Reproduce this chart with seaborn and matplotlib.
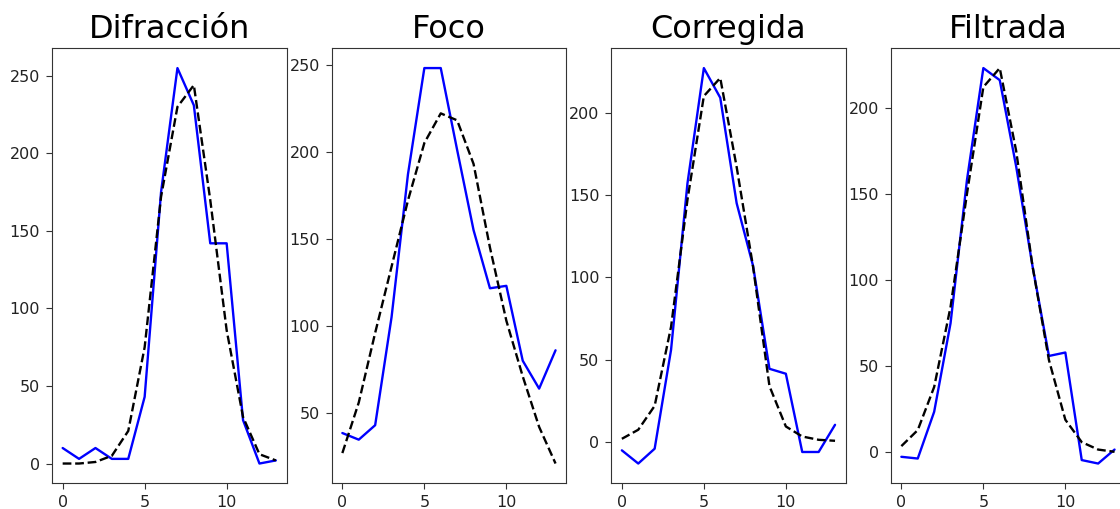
import numpy as np
import pandas as pd
import matplotlib
matplotlib.use("Agg")
import matplotlib.pyplot as plt
import seaborn as sns

titles = ["Difracción", "Foco", "Corregida", "Filtrada"]
x_vals = list(range(14))

difraccion_med = [10, 3, 10, 3, 3, 43, 175, 255, 231, 142, 142, 28, 0, 2]
difraccion_fit = [0, 0, 1, 5, 21, 75, 172, 230, 244, 170, 86, 30, 6, 2]

foco_med = [38.5, 34.7, 43, 105, 187, 248, 248, 201, 155, 121.6, 123, 80, 64, 86]
foco_fit = [27, 56, 96, 134, 172, 205, 222, 218, 193, 145, 103, 71, 42, 21]

corregida_med = [-5, -13, -4, 56, 157, 227, 209, 145, 107, 44.5, 41.5, -6, -6, 10.5]
corregida_fit = [2, 7.5, 22, 70, 147, 210, 221, 167, 106.5, 34, 9.5, 3.4, 1.4, 0.8]

filtrada_med = [-2.5, -3.5, 23.6, 75, 158, 223, 216, 166, 108, 56, 58, -4.4, -6.4, 1.7]
filtrada_fit = [3.7, 13, 38, 84.5, 150, 212, 223, 175, 108, 53.6, 19, 6, 1.7, 0.4]

measured = [difraccion_med, foco_med, corregida_med, filtrada_med]
fitted = [difraccion_fit, foco_fit, corregida_fit, filtrada_fit]

sns.set_style("ticks")
plt.rcParams['font.family'] = ['DejaVu Sans']

W, H = 1120, 509
fig = plt.figure(figsize=(W / 100, H / 100), dpi=100)

ax_w = 234.5 / W
ax_h = (483.3 - 48.3) / H
bottom = (H - 483.3) / H
lefts = [52, 331.7, 611.2, 890.7]

for i in range(4):
    ax = fig.add_axes([lefts[i] / W, bottom, ax_w, ax_h])
    df = pd.DataFrame({"x": x_vals, "med": measured[i], "fit": fitted[i]})
    sns.lineplot(data=df, x="x", y="med", ax=ax, color="blue", linewidth=1.7)
    sns.lineplot(data=df, x="x", y="fit", ax=ax, color="black", linewidth=1.7,
                 linestyle="--")
    ax.set_xlabel("")
    ax.set_ylabel("")
    ax.set_xticks([0, 5, 10])
    ax.set_title(titles[i], fontsize=23, pad=7.5, color="black")
    ax.tick_params(labelsize=11.5, length=4, pad=4.5, colors="#333333",
                   labelcolor="#222222")
    for s in ax.spines.values():
        s.set_color("#333333")

fig.savefig("out.png", dpi=100)
